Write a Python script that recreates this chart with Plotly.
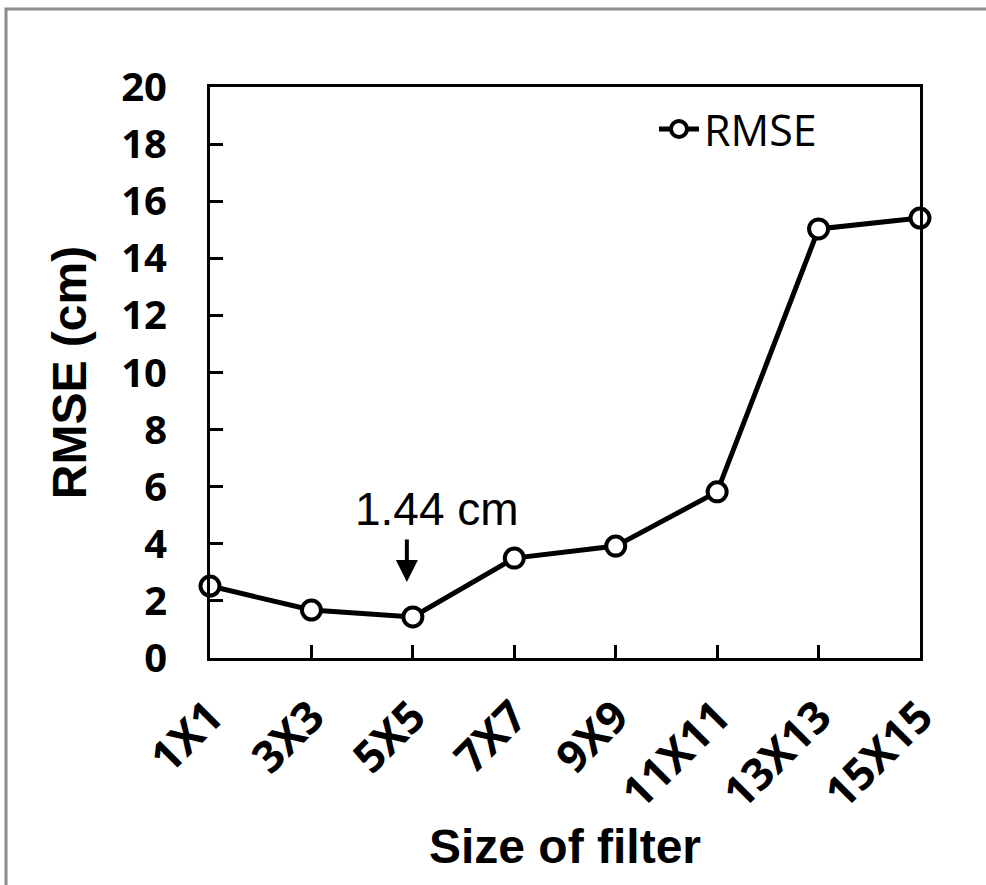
import plotly.graph_objects as go

categories = ["1X1", "3X3", "5X5", "7X7", "9X9", "11X11", "13X13", "15X15"]
rmse = [2.52, 1.68, 1.44, 3.50, 3.92, 5.82, 15.03, 15.41]
y_ticks = [0, 2, 4, 6, 8, 10, 12, 14, 16, 18, 20]

x_idx = list(range(len(categories)))
min_i = rmse.index(min(rmse))

W, H = 986, 885
L, R, T, B = 210, 66, 87, 227
pw, ph = W - L - R, H - T - B

def px_x(p):
    return (p - L) / pw

def px_y(p):
    return (H - B - p) / ph

fig = go.Figure()
fig.add_trace(go.Scatter(
    x=x_idx, y=rmse, mode="lines+markers", name="RMSE",
    line=dict(color="black", width=5),
    marker=dict(symbol="circle", size=19, color="white",
                line=dict(color="black", width=4)),
    cliponaxis=False,
))

fig.update_layout(
    width=W, height=H,
    margin=dict(l=L, r=R, t=T, b=B, pad=0),
    paper_bgcolor="white", plot_bgcolor="white",
    showlegend=True,
    legend=dict(x=px_x(654), y=px_y(129), xanchor="left", yanchor="middle",
                bgcolor="rgba(0,0,0,0)",
                font=dict(family="Open Sans", size=43, color="black"),
                itemwidth=40),
    xaxis=dict(
        range=[0, len(categories) - 1],
        tickmode="array", tickvals=x_idx, ticktext=categories,
        tickangle=-45,
        ticks="inside", ticklen=13, tickwidth=3, tickcolor="black",
        showline=True, linewidth=3, linecolor="black", mirror=True,
        showgrid=False, zeroline=False,
        tickfont=dict(family="Open Sans", size=44, color="black", weight="bold"),
        ticklabelstandoff=12,
        title=dict(text="Size of filter",
                   font=dict(family="Liberation Sans", size=48, color="black", weight="bold"),
                   standoff=10),
    ),
    yaxis=dict(
        range=[0, 20],
        tickmode="array", tickvals=y_ticks,
        ticks="inside", ticklen=13, tickwidth=3, tickcolor="black",
        showline=True, linewidth=3, linecolor="black", mirror=True,
        showgrid=False, zeroline=False,
        tickfont=dict(family="Open Sans", size=40, color="black", weight="bold"),
        ticklabelstandoff=32,
        title=dict(text="RMSE (cm)",
                   font=dict(family="Liberation Sans", size=48, color="black", weight="bold"),
                   standoff=20),
    ),
)

# annotation text and arrow for the minimum
fig.add_annotation(
    x=min_i, y=rmse[min_i], xref="x", yref="y",
    text=f"{rmse[min_i]:.2f} cm", showarrow=False,
    xshift=24, yshift=108, xanchor="center", yanchor="middle",
    font=dict(family="Liberation Sans", size=46, color="black"),
)
fig.add_annotation(
    x=min_i, y=rmse[min_i], xref="x", yref="y",
    text="", showarrow=True, ax=0, ay=-44, axref="pixel", ayref="pixel",
    xshift=-6, yshift=35,
    arrowhead=2, arrowsize=1.1, arrowwidth=4, arrowcolor="black",
)

# outer gray frame
fig.add_shape(type="rect", xref="paper", yref="paper",
              x0=px_x(6), x1=px_x(1010), y0=px_y(910), y1=px_y(9),
              line=dict(color="#8c8c8c", width=3), fillcolor="rgba(0,0,0,0)",
              layer="below")

fig.write_html("out.html")
